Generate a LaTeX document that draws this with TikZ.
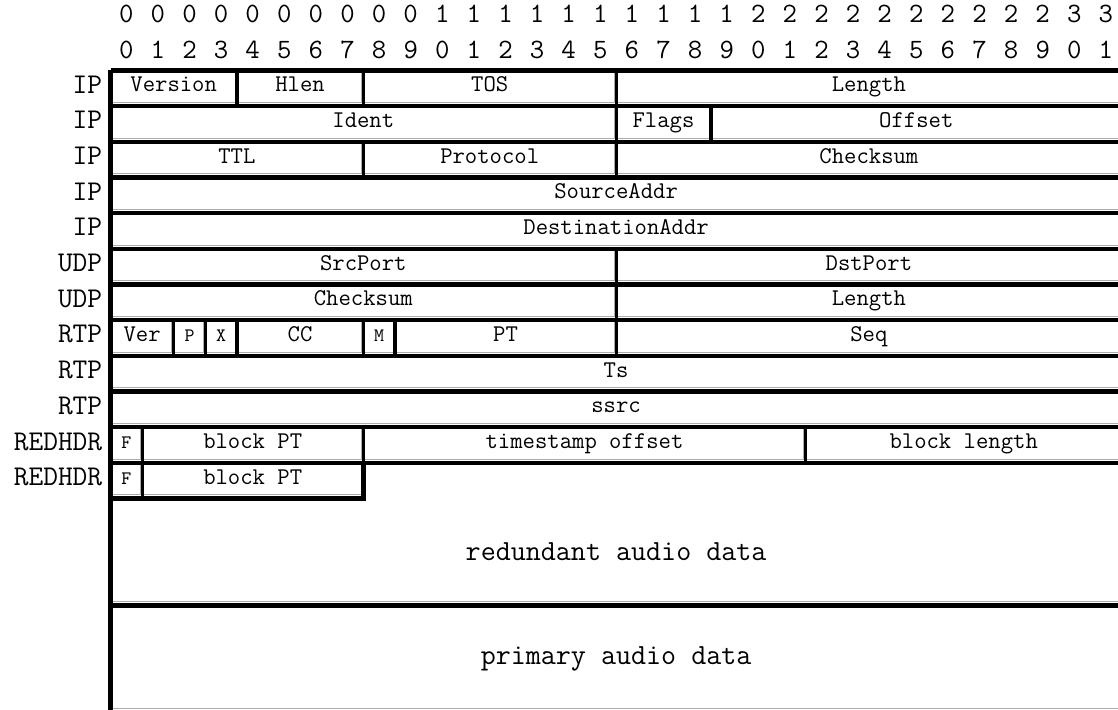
\documentclass[tikz,border=0pt]{standalone}
\usepackage{tikz}

\tikzset{
  hedge/.style = {line width=2.2pt, line cap=square},
  vedge/.style = {line width=1.6pt, line cap=square},
  lowedge/.style = {line width=0.5pt, gray!65},
  fieldtext/.style = {font=\ttfamily\fontsize{12}{14}\selectfont, anchor=base, inner sep=0pt},
  smalltext/.style = {font=\ttfamily\fontsize{9.5}{11}\selectfont, anchor=base, inner sep=0pt},
  rowlabel/.style = {font=\ttfamily\fontsize{14.3}{17}\selectfont, anchor=base east, inner sep=0pt},
  bitnum/.style = {font=\ttfamily\fontsize{14}{17}\selectfont, anchor=base, inner sep=0pt},
  datatext/.style = {font=\ttfamily\fontsize{14.6}{17}\selectfont, inner sep=0pt}
}

% #1 text style, #2 name, #3 row, #4 first bit, #5 end bit, #6 text
\newcommand{\field}[6][fieldtext]{
  \draw[lowedge] (#5-0.06,#3) -- (#5-0.06,#3+0.9) -- (#4,#3+0.9);
  \draw[vedge] (#4,#3) -- (#4,#3+1);
  \draw[hedge] (#4,#3) -- (#5,#3);
  \node[#1] (#2) at ({(#4+#5)/2},#3+0.6) {#6};
}

\begin{document}
\begin{tikzpicture}[x=15.8pt, y=-17.835pt]
  \useasboundingbox (-3.497,-1.976) rectangle (31.883,17.928);
  \clip (-3.497,-1.976) rectangle (31.883,17.928);

  % bit numbers
  \foreach \i in {0,...,31} {
    \pgfmathtruncatemacro{\tens}{\i/10}
    \pgfmathtruncatemacro{\units}{mod(\i,10)}
    \node[bitnum] (tens\i) at (\i+0.5,-1.34) {\tens};
    \node[bitnum] (units\i) at (\i+0.5,-0.34) {\units};
  }

  % row labels
  \foreach \r/\lab in {0/IP,1/IP,2/IP,3/IP,4/IP,5/UDP,6/UDP,7/RTP,8/RTP,9/RTP,10/REDHDR,11/REDHDR}
    \node[rowlabel] (lab\r) at (-0.25,\r+0.64) {\lab};

  % IP
  \field{ipver}{0}{0}{4}{Version}
  \field{iphlen}{0}{4}{8}{Hlen}
  \field{iptos}{0}{8}{16}{TOS}
  \field{iplen}{0}{16}{32}{Length}
  \field{ipident}{1}{0}{16}{Ident}
  \field{ipflags}{1}{16}{19}{Flags}
  \field{ipoff}{1}{19}{32}{Offset}
  \field{ipttl}{2}{0}{8}{TTL}
  \field{ipproto}{2}{8}{16}{Protocol}
  \field{ipsum}{2}{16}{32}{Checksum}
  \field{ipsrc}{3}{0}{32}{SourceAddr}
  \field{ipdst}{4}{0}{32}{DestinationAddr}

  % UDP
  \field{udpsrc}{5}{0}{16}{SrcPort}
  \field{udpdst}{5}{16}{32}{DstPort}
  \field{udpsum}{6}{0}{16}{Checksum}
  \field{udplen}{6}{16}{32}{Length}

  % RTP
  \field{rtpver}{7}{0}{2}{Ver}
  \field[smalltext]{rtpp}{7}{2}{3}{P}
  \field[smalltext]{rtpx}{7}{3}{4}{X}
  \field{rtpcc}{7}{4}{8}{CC}
  \field[smalltext]{rtpm}{7}{8}{9}{M}
  \field{rtppt}{7}{9}{16}{PT}
  \field{rtpseq}{7}{16}{32}{Seq}
  \field{rtpts}{8}{0}{32}{Ts}
  \field{rtpssrc}{9}{0}{32}{ssrc}

  % RED headers
  \field[smalltext]{redf}{10}{0}{1}{F}
  \field{redpt}{10}{1}{8}{block PT}
  \field{redts}{10}{8}{22}{timestamp offset}
  \field{redlen}{10}{22}{32}{block length}
  \field[smalltext]{redfb}{11}{0}{1}{F}
  \field{redptb}{11}{1}{8}{block PT}

  % audio blocks
  \draw[lowedge] (31.94,11) -- (31.94,14.9) -- (0,14.9);
  \draw[hedge] (0,15) -- (0,12) -- (8,12) -- (8,11) -- (32,11);
  \node[datatext] (reddata) at (16,13.5) {redundant audio data};
  \draw[lowedge] (31.94,15) -- (31.94,17.9) -- (0,17.9);
  \draw[vedge] (0,15) -- (0,18);
  \draw[hedge] (0,15) -- (32,15);
  \node[datatext] (primdata) at (16,16.5) {primary audio data};

  % outer left edge
  \draw[hedge] (0,0) -- (0,18);
\end{tikzpicture}
\end{document}
